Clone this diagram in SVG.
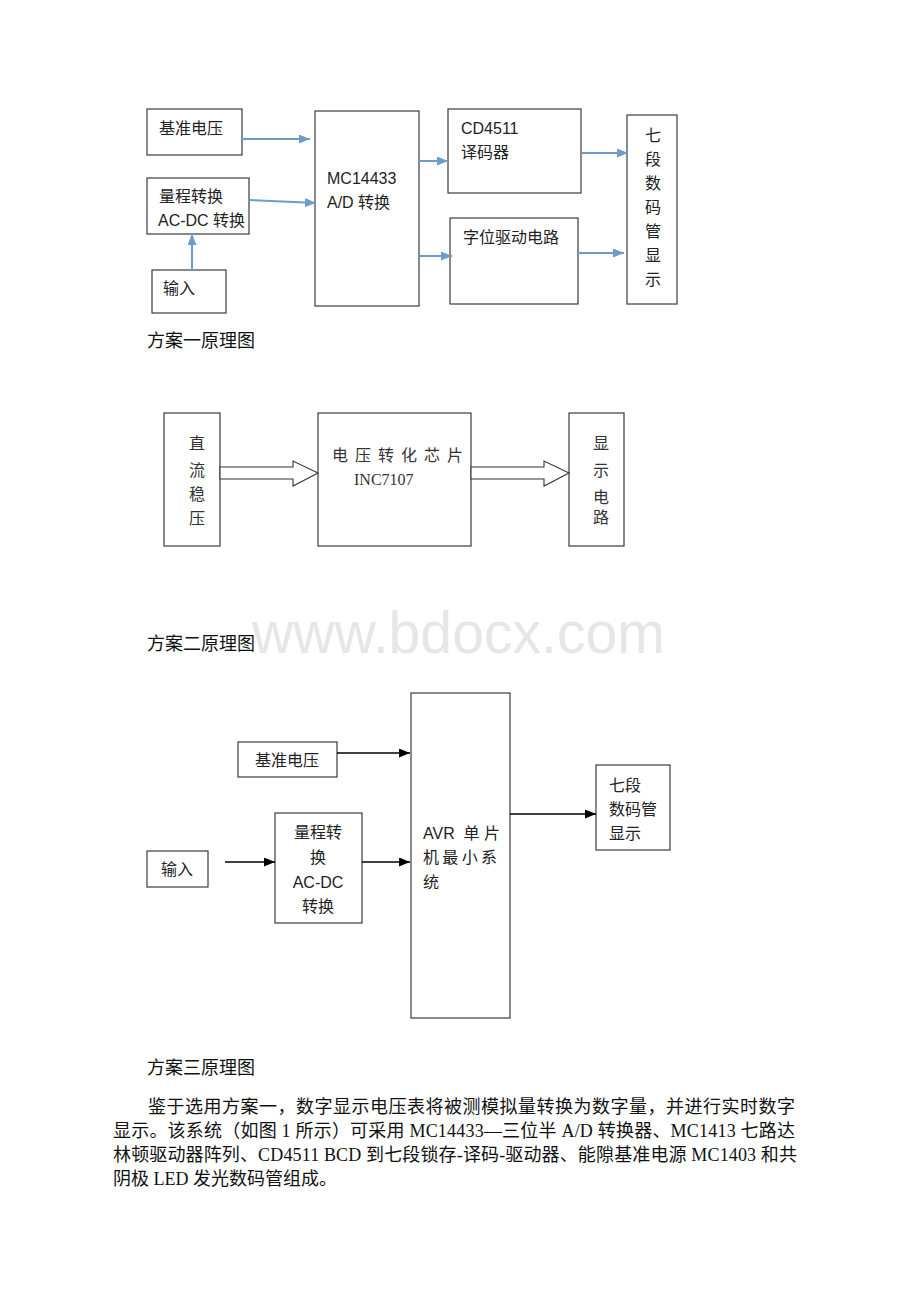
<svg xmlns="http://www.w3.org/2000/svg" width="920" height="1302" viewBox="0 0 920 1302">
<defs>
<style>
.box{fill:#fff;stroke:#3a3a3a;stroke-width:1.2}
.t{font-family:"Liberation Sans","Noto Sans CJK SC",sans-serif;font-size:16px;fill:#222}
.ts{font-family:"Liberation Serif","Noto Sans CJK SC",serif;font-size:16px;fill:#333}
.cap{font-family:"Liberation Serif","Noto Sans CJK SC",serif;font-size:18px;fill:#111}
.blue{stroke:#6f9bc8;stroke-width:2;fill:none;marker-end:url(#ab)}
.blk{stroke:#000;stroke-width:1.3;fill:none;marker-end:url(#ak)}
.hol{fill:#fff;stroke:#333;stroke-width:1.1}
.mid{text-anchor:middle}
</style>
<marker id="ab" markerUnits="userSpaceOnUse" markerWidth="11" markerHeight="9" refX="11" refY="4.5" orient="auto"><path d="M0,0 L11,4.5 L0,9 z" fill="#6f9bc8"/></marker>
<marker id="ak" markerUnits="userSpaceOnUse" markerWidth="11" markerHeight="9" refX="11" refY="4.5" orient="auto"><path d="M0,0 L11,4.5 L0,9 z" fill="#000"/></marker>
</defs>
<rect width="920" height="1302" fill="#fff"/>

<!-- Diagram 1 -->
<g id="d1-ref"><rect class="box" x="147" y="109" width="95" height="46"/><text class="t" x="159" y="134">基准电压</text></g>
<g id="d1-range"><rect class="box" x="147" y="178" width="102" height="56"/><text class="t" x="159" y="202">量程转换</text><text class="t" x="158" y="226">AC-DC 转换</text></g>
<g id="d1-input"><rect class="box" x="152" y="270" width="74" height="43"/><text class="t" x="163" y="294">输入</text></g>
<g id="d1-mc"><rect class="box" x="315" y="111" width="104" height="195"/><text class="t" x="327" y="184">MC14433</text><text class="t" x="327" y="208">A/D 转换</text></g>
<g id="d1-cd"><rect class="box" x="448" y="109" width="133" height="84"/><text class="t" x="461" y="134">CD4511</text><text class="t" x="461" y="158">译码器</text></g>
<g id="d1-drv"><rect class="box" x="450" y="218" width="128" height="86"/><text class="t" x="463" y="243">字位驱动电路</text></g>
<g id="d1-disp"><rect class="box" x="627" y="115" width="50" height="189"/>
<text class="t mid" x="653" y="141">七</text><text class="t mid" x="653" y="165">段</text><text class="t mid" x="653" y="189">数</text><text class="t mid" x="653" y="213">码</text><text class="t mid" x="653" y="237">管</text><text class="t mid" x="653" y="261">显</text><text class="t mid" x="653" y="285">示</text></g>
<g id="d1-conn">
<line class="blue" x1="242" y1="139" x2="310" y2="139"/>
<line class="blue" x1="249" y1="200" x2="316" y2="203"/>
<line class="blue" x1="192" y1="270" x2="192" y2="234"/>
<line class="blue" x1="419" y1="161" x2="448" y2="161"/>
<line class="blue" x1="419" y1="256" x2="452" y2="256"/>
<line class="blue" x1="581" y1="153" x2="628" y2="153"/>
<line class="blue" x1="578" y1="253" x2="624" y2="253"/>
</g>
<text class="cap" x="147" y="347">方案一原理图</text>

<!-- Diagram 2 -->
<g id="d2-dc"><rect class="box" x="164" y="413" width="56" height="133"/>
<text class="ts mid" x="197" y="449">直</text><text class="ts mid" x="197" y="476">流</text><text class="ts mid" x="197" y="500">稳</text><text class="ts mid" x="197" y="524">压</text></g>
<g id="d2-chip"><rect class="box" x="318" y="413" width="153" height="133"/>
<text class="ts" x="332" y="461" textLength="131" lengthAdjust="spacing">电压转化芯片</text>
<text class="ts" x="354" y="485">INC7107</text></g>
<g id="d2-disp"><rect class="box" x="569" y="413" width="55" height="133"/>
<text class="ts mid" x="601" y="449">显</text><text class="ts mid" x="601" y="476">示</text><text class="ts mid" x="601" y="503">电</text><text class="ts mid" x="601" y="523">路</text></g>
<g id="d2-conn">
<polygon class="hol" points="220,467 293,467 293,461 318,473 293,486 293,479 220,479"/>
<polygon class="hol" points="471,467 544,467 544,461 569,473 544,486 544,479 471,479"/>
</g>
<text x="252" y="653" font-family="Liberation Sans, sans-serif" font-size="60" fill="#e6e6e6" textLength="413" lengthAdjust="spacingAndGlyphs">www.bdocx.com</text>
<text class="cap" x="147" y="650">方案二原理图</text>

<!-- Diagram 3 -->
<g id="d3-ref"><rect class="box" x="238" y="742" width="99" height="35"/><text class="t mid" x="287" y="766">基准电压</text></g>
<g id="d3-input"><rect class="box" x="147" y="851" width="61" height="36"/><text class="t mid" x="177" y="875">输入</text></g>
<g id="d3-range"><rect class="box" x="275" y="813" width="87" height="110"/>
<text class="t mid" x="318" y="838">量程转</text><text class="t mid" x="318" y="863">换</text><text class="t mid" x="318" y="888">AC-DC</text><text class="t mid" x="318" y="912">转换</text></g>
<g id="d3-avr"><rect class="box" x="411" y="693" width="99" height="325"/>
<text class="t" x="423" y="839" xml:space="preserve">AVR  单 片</text><text class="t" x="423" y="863" textLength="74" lengthAdjust="spacing">机最小系</text><text class="t" x="423" y="888">统</text></g>
<g id="d3-disp"><rect class="box" x="596" y="765" width="74" height="85"/>
<text class="t" x="609" y="791">七段</text><text class="t" x="609" y="815">数码管</text><text class="t" x="609" y="839">显示</text></g>
<g id="d3-conn">
<line class="blk" x1="337" y1="753" x2="410" y2="753"/>
<line class="blk" x1="225" y1="862" x2="275" y2="862"/>
<line class="blk" x1="362" y1="862" x2="410" y2="862"/>
<line class="blk" x1="510" y1="814" x2="596" y2="814"/>
</g>
<text class="cap" x="147" y="1074">方案三原理图</text>

<!-- Paragraph -->
<g class="cap">
<text x="148" y="1113" textLength="647" lengthAdjust="spacing">鉴于选用方案一，数字显示电压表将被测模拟量转换为数字量，并进行实时数字</text>
<text x="113" y="1137" textLength="682" lengthAdjust="spacing">显示。该系统（如图 1 所示）可采用 MC14433—三位半 A/D 转换器、MC1413 七路达</text>
<text x="113" y="1161" textLength="684" lengthAdjust="spacing">林顿驱动器阵列、CD4511 BCD 到七段锁存-译码-驱动器、能隙基准电源 MC1403 和共</text>
<text x="113" y="1185">阴极 LED 发光数码管组成。</text>
</g>
</svg>
